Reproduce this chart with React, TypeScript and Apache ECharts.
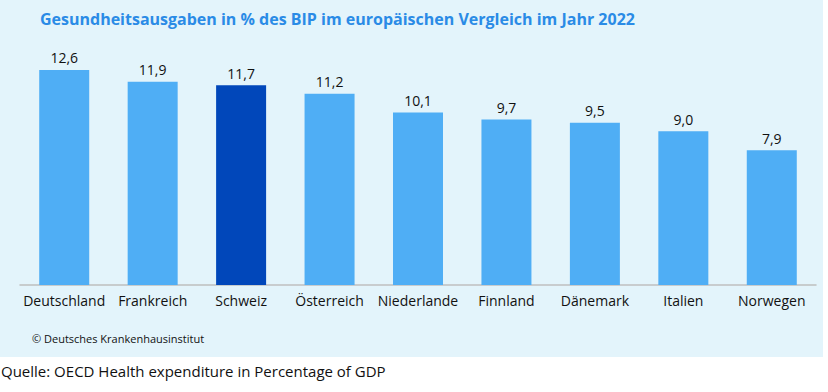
import React, { useEffect, useRef } from "react";
import * as echarts from "echarts";

const categories = ["Deutschland", "Frankreich", "Schweiz", "Österreich", "Niederlande", "Finnland", "Dänemark", "Italien", "Norwegen"];
const values = [12.6, 11.9, 11.7, 11.2, 10.1, 9.7, 9.5, 9.0, 7.9];
const highlight = "Schweiz";
const titleText = "Gesundheitsausgaben in % des BIP im europäischen Vergleich im Jahr 2022";
const copyrightText = "© Deutsches Krankenhausinstitut";
const sourceText = "Quelle: OECD Health expenditure in Percentage of GDP";

export default function App() {
  const ref = useRef<HTMLDivElement>(null);
  useEffect(() => {
    document.body.style.margin = "0";
    const chart = echarts.init(ref.current!, null, { renderer: "svg" });
    chart.setOption({
      animation: false,
      backgroundColor: "#ffffff",
      title: {
        text: titleText,
        left: 35,
        top: 6,
        textStyle: { fontFamily: "Open Sans", fontWeight: "bold", fontSize: 16, color: "#2A8BE6" },
      },
      graphic: [
        { type: "rect", z: -10, shape: { x: 0, y: 0, width: 823, height: 357 }, style: { fill: "#E3F4FB" } },
        { type: "text", x: 32, y: 333, style: { text: copyrightText, fontFamily: "Open Sans", fontSize: 11, fill: "#111" } },
        { type: "text", x: 1, y: 363, style: { text: sourceText, fontFamily: "Open Sans", fontSize: 15, fill: "#111" } },
      ],
      grid: { left: 20, right: 12, top: 46, bottom: 107 },
      xAxis: {
        type: "category",
        data: categories,
        axisLine: { lineStyle: { color: "#BFBFBF", width: 1.5 } },
        axisTick: { show: false },
        axisLabel: { fontFamily: "Open Sans", fontSize: 14, color: "#111", margin: 8, interval: 0 },
      },
      yAxis: { type: "value", min: 0, max: 14, show: false, splitLine: { show: false } },
      series: [
        {
          type: "bar",
          barWidth: 50,
          data: values.map((v, i) => ({
            value: v,
            itemStyle: { color: categories[i] === highlight ? "#0147BA" : "#4FAEF5" },
          })),
          label: {
            show: true,
            position: "top",
            distance: 5,
            fontFamily: "Open Sans",
            fontSize: 14,
            color: "#111",
            formatter: (p: any) => p.value.toFixed(1).replace(".", ","),
          },
        },
      ],
    });
    return () => chart.dispose();
  }, []);
  return <div ref={ref} style={{ width: 828, height: 392 }} />;
}
